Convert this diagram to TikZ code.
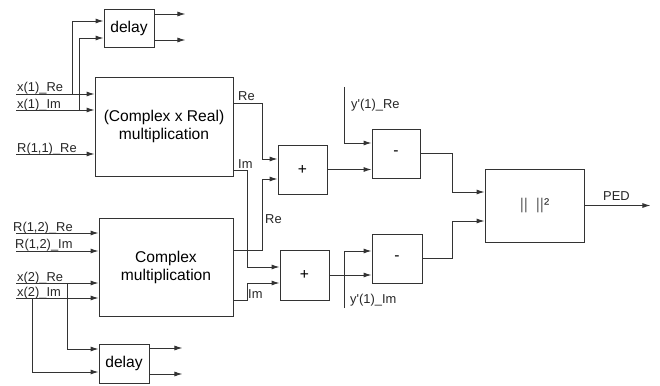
\documentclass[tikz,border=0pt]{standalone}
\usepackage{fontspec}
\setmainfont{Liberation Sans}
\usetikzlibrary{arrows.meta,positioning}

\begin{document}
\begin{tikzpicture}[
    x=1pt,y=-1pt,
    block/.style={draw=black!80,line width=0.9pt,fill=white,inner sep=0pt,align=center,font=\fontsize{15.6}{18}\selectfont},
    sig/.style={-{Latex[length=8pt,width=5pt]},line width=0.9pt,draw=black!80},
    lbl/.style={font=\fontsize{12.9}{15}\selectfont,inner sep=0pt,anchor=base west,text=black!85}
]
\useasboundingbox (0,0) rectangle (660,385);

\node[block,minimum width=50,minimum height=38] (dly1) at (129,28) {delay};
\node[block,minimum width=138,minimum height=99] (mul1) at (164,126.5) {(Complex x Real)\\multiplication};
\node[block,minimum width=134,minimum height=98] (mul2) at (166,267) {Complex\\multiplication};
\node[block,minimum width=50,minimum height=39] (dly2) at (124,363.5) {delay};
\node[block,minimum width=49,minimum height=49] (add1) at (302.5,169.5) {+};
\node[block,minimum width=49,minimum height=50] (add2) at (304.5,275) {+};
\node[block,minimum width=48,minimum height=49] (sub1) at (396,153.5) {-};
\node[block,minimum width=50,minimum height=49] (sub2) at (397,258.5) {-};
\node[block,minimum width=99,minimum height=73,text=black!60] (norm) at (534.5,205.5) {||\hspace{8pt}||\textcolor{black!85}{²}};

\coordinate (xr1) at (16,94);
\coordinate (xi1) at (16,110);
\coordinate (r11) at (16,154);
\coordinate (r12re) at (16,233);
\coordinate (r12im) at (16,251);
\coordinate (xr2) at (16,283);
\coordinate (xi2) at (16,298);
\coordinate (br1) at (72,94);
\coordinate (br2) at (79,110);
\coordinate (br3) at (67,283);
\coordinate (br4) at (32,298);
\coordinate (yre) at (344,87);
\coordinate (yim) at (344,308);

\node[lbl] (lxr1) at (17,92) {x(1)\_Re};
\node[lbl] (lxi1) at (17,108) {x(1)\_Im};
\node[lbl] (lr11) at (17,152) {R(1,1)\_Re};
\node[lbl] (lr12re) at (13,231) {R(1,2)\_Re};
\node[lbl] (lr12im) at (15,248.5) {R(1,2)\_Im};
\node[lbl] (lxr2) at (17,281) {x(2)\_Re};
\node[lbl] (lxi2) at (17,296.5) {x(2)\_Im};
\node[lbl] (lre1) at (238,101) {Re};
\node[lbl] (lim1) at (238,168) {Im};
\node[lbl] (lre2) at (265,223) {Re};
\node[lbl] (lim2) at (248,298) {Im};
\node[lbl] (lyre) at (351,109) {y\textquotesingle(1)\_Re};
\node[lbl] (lyim) at (350,303) {y\textquotesingle(1)\_Im};
\node[lbl] (lped) at (603,200.5) {PED};

\draw[sig] (xr1) -- (xr1 -| mul1.west);
\draw[sig] (xi1) -- (xi1 -| mul1.west);
\draw[sig] (r11) -- (r11 -| mul1.west);
\draw[sig] (br1) |- ([yshift=7pt]dly1.west);
\draw[sig] (br2) |- ([yshift=-10pt]dly1.west);
\draw[sig] ([yshift=14pt]dly1.east) -- ++(31,0);
\draw[sig] ([yshift=-12pt]dly1.east) -- ++(31,0);

\draw[sig] (r12re) -- (r12re -| mul2.west);
\draw[sig] (r12im) -- (r12im -| mul2.west);
\draw[sig] (xr2) -- (xr2 -| mul2.west);
\draw[sig] (xi2) -- (xi2 -| mul2.west);
\draw[sig] (br3) |- ([yshift=14.5pt]dly2.west);
\draw[sig] (br4) |- ([yshift=-8.5pt]dly2.west);
\draw[sig] ([yshift=15.5pt]dly2.east) -- ++(33,0);
\draw[sig] ([yshift=-10.5pt]dly2.east) -- ++(33,0);

\draw[sig] ([yshift=23.5pt]mul1.east) -- ++(29,0) |- ([yshift=10.5pt]add1.west);
\draw[sig] ([yshift=-43.5pt]mul1.east) -- ++(14,0) |- ([yshift=8pt]add2.west);
\draw[sig] ([yshift=17pt]mul2.east) -- ++(29,0) |- ([yshift=-9.5pt]add1.west);
\draw[sig] ([yshift=-33pt]mul2.east) -- ++(14,0) |- ([yshift=-8pt]add2.west);

\draw[sig] (add1.east) -- (add1.east -| sub1.west);
\draw[sig] (add2.east) -- (add2.east -| sub2.west);
\draw[sig] (yre) |- ([yshift=10.5pt]sub1.west);
\draw[sig] (yim) |- ([yshift=7.5pt]sub2.west);

\draw[sig] (sub1.east) -- ++(32,0) |- ([yshift=13.5pt]norm.west);
\draw[sig] (sub2.east) -- ++(30,0) |- ([yshift=-15.5pt]norm.west);
\draw[sig] (norm.east) -- ++(66,0);
\end{tikzpicture}
\end{document}
